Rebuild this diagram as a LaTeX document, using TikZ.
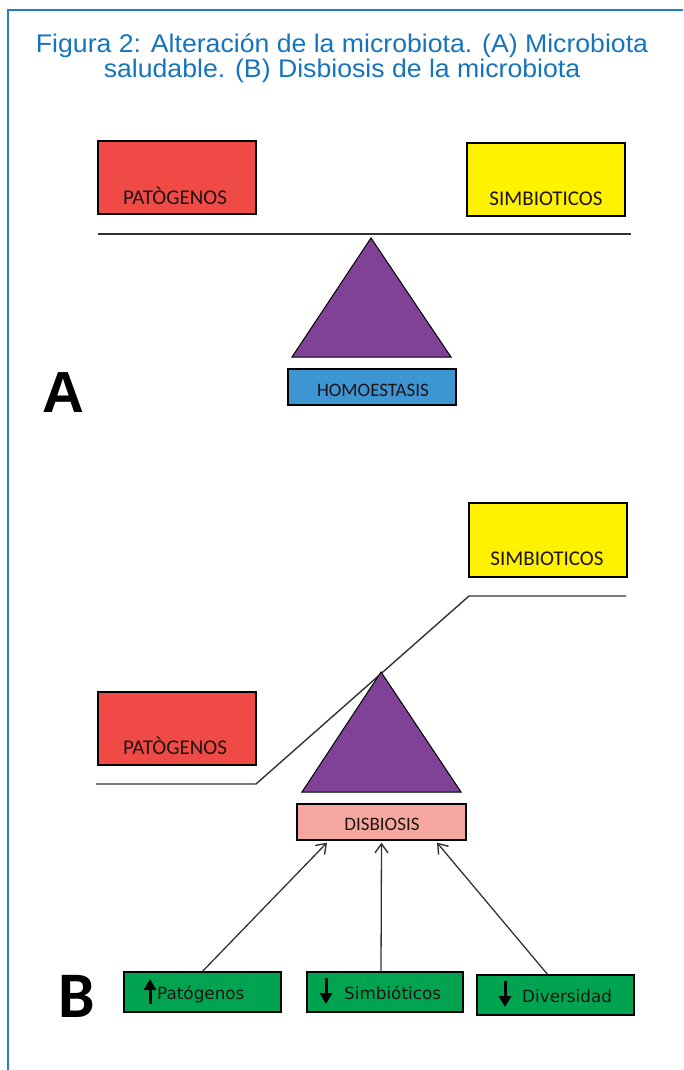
\documentclass[tikz,border=0pt]{standalone}
\usepackage{fontspec}
\setmainfont{Liberation Sans}
\newfontfamily\calfont{Carlito}
\newfontfamily\dvfont{DejaVu Sans}
\usetikzlibrary{arrows.meta}
\definecolor{frameblue}{RGB}{35,125,200}
\definecolor{titleblue}{RGB}{22,116,190}
\definecolor{pred}{RGB}{239,74,69}
\definecolor{syel}{RGB}{255,242,0}
\definecolor{tpurp}{RGB}{127,66,150}
\definecolor{hblue}{RGB}{61,149,210}
\definecolor{dpink}{RGB}{246,168,160}
\definecolor{ggreen}{RGB}{0,164,80}
\definecolor{linegray}{RGB}{50,50,50}
\definecolor{txtdark}{RGB}{30,20,20}
\newcommand{\titlestretch}[1]{\scalebox{1.045}[1]{#1}}
\begin{document}
\begin{tikzpicture}[x=1pt,y=-1pt,
  boxbase/.style={draw=black, line width=1.3pt, rectangle, inner sep=0pt},
  redbox/.style={boxbase, fill=pred, minimum width=158pt, minimum height=73pt},
  yelbox/.style={boxbase, fill=syel, minimum width=158pt, minimum height=73pt},
  smallbox/.style={boxbase, minimum width=168pt, minimum height=36pt},
  greenbox/.style={boxbase, fill=ggreen, minimum width=157pt, minimum height=40pt},
  caplabel/.style={anchor=base, inner sep=0pt, text=txtdark, font=\calfont\fontsize{21}{21}\selectfont},
  smalllabel/.style={anchor=base, inner sep=0pt, text=txtdark, font=\calfont\fontsize{19}{19}\selectfont},
  greenlabel/.style={anchor=base west, inner sep=0pt, text=txtdark, font=\dvfont\fontsize{16.8}{16.8}\selectfont},
  titletext/.style={anchor=base, inner sep=0pt, text=titleblue, font=\fontsize{25.5}{25.5}\selectfont},
  bigletter/.style={anchor=base, inner sep=0pt, text=black},
  beam/.style={draw=linegray, line width=1.4pt},
  fulcrum/.style={draw=black, line width=1pt, fill=tpurp},
  feed/.style={draw=linegray, line width=1.3pt, -{Straight Barb[length=9pt,width=13pt,line width=1.4pt]}},
  thickarrow/.style={draw=black, line width=3pt, -{Triangle[length=11pt,width=12pt]}}
]
\useasboundingbox (0,0) rectangle (683,1070);
% frame
\draw[frameblue, line width=1.3pt] (683,10) -- (8,10) -- (8,1070);
% title
\node[titletext] (t1) at (342,53) {\titlestretch{Figura 2: Alteración de la microbiota. (A) Microbiota}};
\node[titletext] (t2) at (342,77.5) {\titlestretch{saludable. (B) Disbiosis de la microbiota}};

% ---------- Part A ----------
\node[redbox] (pA) at (177,177.5) {};
\node[caplabel] (pAt) at (175,204) {PATÒGENOS};
\node[yelbox] (sA) at (546,179.5) {};
\node[caplabel] (sAt) at (546,205) {SIMBIOTICOS};
\draw[beam] (98,234) -- (631,234);
\coordinate (apexA) at (371,238);
\draw[fulcrum] (apexA) -- (451,357) -- (292,357) -- cycle;
\node[smallbox, fill=hblue] (hom) at (372,387) {};
\node[smalllabel] (homt) at (373,396) {HOMOESTASIS};
\node[bigletter, font=\bfseries\fontsize{58}{58}\selectfont] (lA) at (63,412) {A};

% ---------- Part B ----------
\node[yelbox, minimum height=74pt] (sB) at (548,540) {};
\node[caplabel] (sBt) at (547,565) {SIMBIOTICOS};
\node[redbox] (pB) at (177,728.5) {};
\node[caplabel] (pBt) at (175,754) {PATÒGENOS};
\draw[beam] (96,784) -- (256,784) -- (469,596) -- (626,596);
\coordinate (apexB) at (381,672);
\draw[fulcrum] (apexB) -- (461,792) -- (302,792) -- cycle;
\node[smallbox, fill=dpink, minimum width=169pt] (dis) at (381.5,822) {};
\node[smalllabel] (dist) at (382,830) {DISBIOSIS};

\node[greenbox] (g1) at (202.5,992) {};
\node[greenbox, minimum width=156pt] (g2) at (385,992) {};
\node[greenbox] (g3) at (555.5,995) {};
\node[greenlabel] (g1t) at (157,999) {Patógenos};
\node[greenlabel] (g2t) at (344,999) {Simbióticos};
\node[greenlabel] (g3t) at (522,1002) {Diversidad};
\draw[thickarrow] (150,1004) -- (150,979);
\draw[thickarrow] (326,978) -- (326,1004);
\draw[thickarrow] (505,981) -- (505,1007);

\draw[feed] (g1.north) -- ([xshift=-54.5pt,yshift=-2pt]dis.south);
\draw[feed] ([xshift=-4pt]g2.north) -- ([yshift=-2pt]dis.south);
\draw[feed] ([xshift=-8pt]g3.north) -- ([xshift=55.5pt,yshift=-2pt]dis.south);

\node[bigletter, font=\calfont\bfseries\fontsize{65}{65}\selectfont] (lB) at (77,1017) {B};
\end{tikzpicture}
\end{document}
